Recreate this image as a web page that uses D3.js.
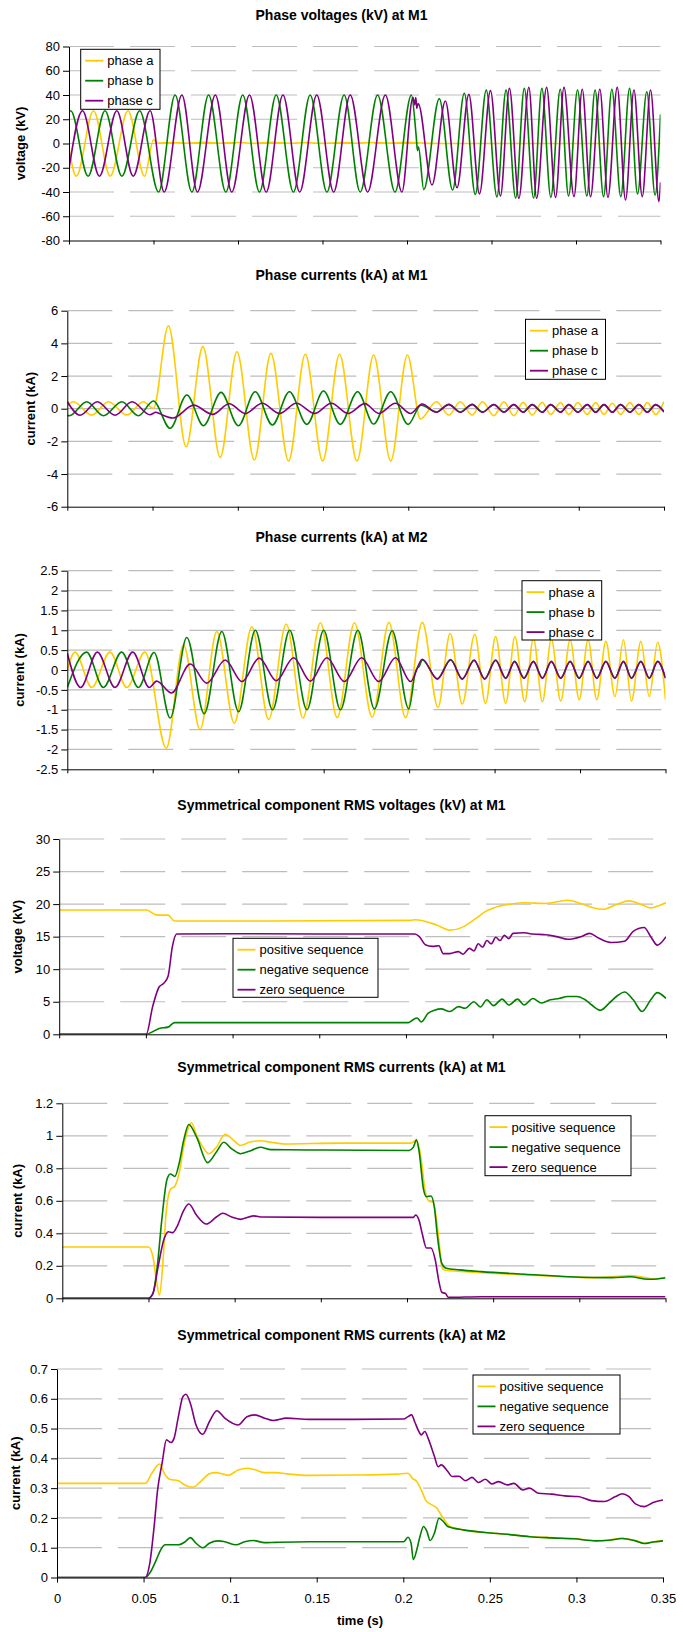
<!DOCTYPE html>
<html>
<head>
<meta charset="utf-8">
<script src="https://cdn.jsdelivr.net/npm/d3@7"></script>
<style>
body { margin: 0; background: #fff; }
text { font-family: "Liberation Sans", Arial, sans-serif; }
</style>
</head>
<body>
<script>
// time ticks shared by every panel (s)
var timeTicks = [0, 0.05, 0.1, 0.15, 0.2, 0.25, 0.3, 0.35];

var phaseNames = ["phase a", "phase b", "phase c"];
var seqNames = ["positive sequence", "negative sequence", "zero sequence"];

var voltTicks1 = [-80, -60, -40, -20, 0, 20, 40, 60, 80];
var curTicks1 = [-6, -4, -2, 0, 2, 4, 6];
var curTicks2 = [-2.5, -2, -1.5, -1, -0.5, 0, 0.5, 1, 1.5, 2, 2.5];
var seqVoltTicks = [0, 5, 10, 15, 20, 25, 30];
var seqCurTicks1 = [0, 0.2, 0.4, 0.6, 0.8, 1, 1.2];
var seqCurTicks2 = [0, 0.1, 0.2, 0.3, 0.4, 0.5, 0.6, 0.7];

// ---- phase voltages at M1 (kV), [t, v] at the turning points
var m1VoltA = [[0,-4],[0.0043,-27],[0.0145,27],[0.0244,-27],[0.0349,27],[0.0447,-27],[0.05,3],[0.052,0.3],
  [0.06,0.8],[0.07,0.2],[0.08,0.9],[0.09,0.2],[0.1,0.8],[0.11,0.1],[0.12,0.9],[0.13,0.2],[0.14,0.7],[0.15,0.1],
  [0.16,0.8],[0.17,0.2],[0.18,0.8],[0.19,0.3],[0.2,0.9],[0.21,0.3],[0.22,0],[0.35,0]];
var m1VoltB = [[0,26],[0.001,27],[0.0113,-27],[0.0213,27],[0.0313,-27],[0.0418,27],[0.053,-40],[0.0628,40],
  [0.0727,-40],[0.0826,40],[0.0928,-40],[0.1028,40],[0.1127,-40],[0.1226,40],[0.1328,-40],[0.1427,40],
  [0.1526,-40],[0.1628,40],[0.1723,-40],[0.1826,40],[0.1929,-40],[0.2026,40],[0.2055,5],[0.2062,-6],
  [0.2068,-3],[0.2099,-38],[0.2191,37],[0.227,-38.4],[0.2339,41.4],[0.2404,-42],[0.2469,44],[0.2532,-44],
  [0.2586,44],[0.2643,-45],[0.2694,45.5],[0.2749,-45],[0.2798,45.5],[0.2851,-44.4],[0.2907,44.7],
  [0.2956,-43.3],[0.3009,44.1],[0.3064,-43.3],[0.3113,44.1],[0.3163,-43.8],[0.3212,44.7],[0.3265,-43.8],
  [0.3317,45.5],[0.3364,-41.6],[0.3419,42.7],[0.3468,-42.5],[0.35,24]];
var m1VoltC = [[0,-21],[0.008,27],[0.018,-27],[0.0283,27],[0.038,-27],[0.048,27],[0.0563,-40],[0.0668,40],
  [0.076,-40],[0.0866,40],[0.0963,-40],[0.1068,40],[0.1167,-40],[0.1266,40],[0.1365,-40],[0.1466,40],
  [0.1566,-40],[0.1664,40],[0.1767,-40],[0.1872,40],[0.197,-40],[0.2035,38],[0.2045,32],[0.2052,38],
  [0.2058,29],[0.2066,33],[0.2148,-34.2],[0.2227,35],[0.2296,-36.4],[0.2366,40.5],[0.2429,-41.6],
  [0.2494,43.6],[0.2553,-43.3],[0.2606,45.5],[0.2662,-45.2],[0.2721,46.3],[0.2767,-45.2],[0.2826,46.3],
  [0.2879,-44.4],[0.2929,46.3],[0.2988,-43.8],[0.3037,44.7],[0.3086,-43.8],[0.3141,44.7],[0.3189,-44.4],
  [0.3244,46.3],[0.3293,-46.6],[0.3343,44.1],[0.3392,-43.8],[0.3441,44.1],[0.3491,-48],[0.35,-32]];

// ---- phase currents at M1 (kA)
var m1CurA = [[0,0.2],[0.0035,0.43],[0.0143,-0.39],[0.0241,0.43],[0.0349,-0.39],[0.0446,0.43],[0.0505,0.02],
  [0.0593,5.08],[0.0697,-2.33],[0.0795,3.8],[0.0897,-2.98],[0.0995,3.49],[0.1097,-3.14],[0.1194,3.39],
  [0.1298,-3.2],[0.1396,3.33],[0.1498,-3.2],[0.1597,3.33],[0.1699,-3.2],[0.1797,3.29],[0.1897,-3.2],
  [0.1995,3.29],[0.2071,-0.63],[0.2165,0.43],[0.2238,-0.39],[0.2305,0.43],[0.2375,-0.39],[0.2435,0.43],
  [0.2502,-0.43],[0.2561,0.43],[0.2619,-0.43],[0.2674,0.39],[0.2727,-0.39],[0.2786,0.39],[0.2835,-0.35],
  [0.2893,0.37],[0.2942,-0.35],[0.2995,0.37],[0.305,-0.35],[0.3099,0.37],[0.3148,-0.35],[0.3197,0.33],
  [0.3245,-0.35],[0.33,0.37],[0.3353,-0.35],[0.3402,0.37],[0.3451,-0.35],[0.35,0.43]];
var m1CurB = [[0,-0.4],[0.0012,-0.43],[0.0114,0.43],[0.0212,-0.43],[0.032,0.43],[0.0417,-0.43],[0.0505,0.47],
  [0.0603,-1.2],[0.0701,0.84],[0.0799,-1.04],[0.0902,1.0],[0.1003,-1.04],[0.1102,1.04],[0.1203,-1.0],
  [0.1303,1.04],[0.1405,-0.96],[0.1503,1.08],[0.1601,-0.96],[0.1703,1.04],[0.1797,-0.94],[0.1897,1.04],
  [0.1999,-0.96],[0.2075,0.22],[0.2165,-0.2],[0.2238,0.27],[0.2305,-0.2],[0.2375,0.27],[0.2435,-0.2],
  [0.2502,0.26],[0.2561,-0.2],[0.2619,0.26],[0.2674,-0.2],[0.2727,0.25],[0.2786,-0.2],[0.2835,0.25],
  [0.2893,-0.2],[0.2942,0.25],[0.2995,-0.2],[0.305,0.25],[0.3099,-0.2],[0.3148,0.25],[0.3197,-0.2],
  [0.3245,0.25],[0.33,-0.2],[0.3353,0.25],[0.3402,-0.2],[0.3451,0.25],[0.35,-0.18]];
var m1CurC = [[0,0.43],[0.0075,-0.4],[0.0176,0.43],[0.028,-0.4],[0.038,0.43],[0.0485,-0.37],[0.052,-0.22],
  [0.054,-0.3],[0.062,-0.57],[0.0741,0.22],[0.0852,-0.35],[0.095,0.3],[0.1044,-0.3],[0.1143,0.33],
  [0.1245,-0.29],[0.1343,0.33],[0.1451,-0.29],[0.1549,0.33],[0.1647,-0.29],[0.1745,0.31],[0.1827,-0.29],
  [0.1925,0.33],[0.2013,-0.29],[0.2081,0.29],[0.2165,-0.22],[0.2238,0.25],[0.2305,-0.22],[0.2375,0.25],
  [0.2435,-0.22],[0.2502,0.25],[0.2561,-0.22],[0.2619,0.25],[0.2674,-0.22],[0.2727,0.25],[0.2786,-0.22],
  [0.2835,0.25],[0.2893,-0.22],[0.2942,0.25],[0.2995,-0.22],[0.305,0.25],[0.3099,-0.22],[0.3148,0.25],
  [0.3197,-0.22],[0.3245,0.25],[0.33,-0.22],[0.3353,0.25],[0.3402,-0.22],[0.3451,0.25],[0.35,-0.2]];

// ---- phase currents at M2 (kA)
var m2CurA = [[0,0],[0.0045,0.45],[0.0143,-0.44],[0.025,0.45],[0.0348,-0.44],[0.0455,0.45],[0.0579,-1.97],
  [0.068,0.63],[0.0777,-1.5],[0.0875,0.97],[0.0977,-1.34],[0.108,1.09],[0.1178,-1.25],[0.1281,1.16],
  [0.1379,-1.21],[0.1481,1.19],[0.1579,-1.2],[0.168,1.19],[0.1784,-1.19],[0.1882,1.2],[0.1979,-1.2],
  [0.2077,1.2],[0.2169,-0.94],[0.224,0.92],[0.2311,-0.86],[0.2384,0.9],[0.2447,-0.84],[0.2506,0.84],
  [0.2565,-0.84],[0.2619,0.84],[0.2676,-0.8],[0.2727,0.8],[0.278,-0.8],[0.2832,0.78],[0.2887,-0.78],
  [0.2942,0.76],[0.2995,-0.75],[0.3047,0.76],[0.3098,-0.75],[0.3151,0.72],[0.3204,-0.67],[0.3254,0.76],
  [0.3301,-0.78],[0.3356,0.72],[0.3405,-0.67],[0.3454,0.7],[0.35,-0.75]];
var m2CurB = [[0,-0.44],[0.0113,0.45],[0.0211,-0.44],[0.0318,0.45],[0.0416,-0.44],[0.0508,0.44],[0.0602,-1.21],
  [0.0699,0.82],[0.0801,-1.1],[0.0904,0.97],[0.1002,-1.05],[0.11,1.0],[0.1201,-1.0],[0.1301,1.0],
  [0.1402,-1.0],[0.15,1.0],[0.1598,-1.0],[0.17,1.0],[0.1797,-0.98],[0.1901,0.99],[0.1998,-0.98],
  [0.2037,-0.05],[0.2048,0.05],[0.2058,0.08],[0.2077,0.25],[0.2165,-0.22],[0.2243,0.26],[0.2311,-0.22],
  [0.238,0.25],[0.2442,-0.22],[0.2506,0.25],[0.2565,-0.2],[0.2617,0.22],[0.2672,-0.2],[0.2727,0.22],
  [0.278,-0.2],[0.2832,0.22],[0.2887,-0.2],[0.2942,0.22],[0.2995,-0.2],[0.3047,0.22],[0.3098,-0.2],
  [0.3151,0.22],[0.3204,-0.2],[0.3254,0.22],[0.3301,-0.2],[0.3356,0.22],[0.3405,-0.2],[0.3454,0.22],[0.35,-0.2]];
var m2CurC = [[0,0.42],[0.0078,-0.44],[0.0176,0.45],[0.0279,-0.44],[0.0383,0.45],[0.048,-0.44],[0.0523,-0.28],
  [0.0535,-0.3],[0.0609,-0.58],[0.0719,0.15],[0.0816,-0.33],[0.0924,0.25],[0.1022,-0.29],[0.1123,0.3],
  [0.1223,-0.27],[0.1324,0.31],[0.1422,-0.28],[0.1519,0.31],[0.1621,-0.29],[0.1722,0.31],[0.1822,-0.29],
  [0.192,0.31],[0.2008,-0.29],[0.2077,0.27],[0.2165,-0.23],[0.2243,0.25],[0.2311,-0.23],[0.238,0.24],
  [0.2442,-0.23],[0.2506,0.24],[0.2565,-0.21],[0.2617,0.21],[0.2672,-0.21],[0.2727,0.21],[0.278,-0.21],
  [0.2832,0.21],[0.2887,-0.21],[0.2942,0.21],[0.2995,-0.21],[0.3047,0.21],[0.3098,-0.21],[0.3151,0.21],
  [0.3204,-0.21],[0.3254,0.21],[0.3301,-0.21],[0.3356,0.21],[0.3405,-0.21],[0.3454,0.21],[0.35,-0.21]];

// ---- symmetrical component RMS voltages at M1 (kV)
var seqVPos = [[0,19.1],[0.0502,19.1],[0.0565,18.3],[0.0628,18.3],[0.0665,17.4],[0.12,17.4],[0.2026,17.5],
  [0.2052,17.6],[0.2177,16.8],[0.2253,16.0],[0.2329,16.5],[0.2404,17.8],[0.2455,18.8],[0.2505,19.4],
  [0.2581,19.9],[0.2681,20.2],[0.2807,20.1],[0.2933,20.6],[0.3009,20.1],[0.3085,19.4],[0.3135,19.2],
  [0.3211,19.9],[0.3286,20.5],[0.3362,19.9],[0.3412,19.4],[0.3462,19.8],[0.35,20.2]];
var seqVNeg = [[0,0],[0.0502,0],[0.0539,0.4],[0.0577,0.9],[0.0628,1.1],[0.0665,1.8],[0.2014,1.8],[0.2039,2.2],
  [0.2064,2.5],[0.2089,1.9],[0.2127,3.2],[0.2165,3.7],[0.2203,3.9],[0.2253,3.5],[0.2303,4.25],[0.2341,4.0],
  [0.2392,5.0],[0.2429,4.2],[0.2467,5.3],[0.2505,4.4],[0.2555,5.4],[0.2593,4.5],[0.2644,5.4],[0.2681,4.5],
  [0.2732,5.5],[0.2782,4.8],[0.2833,5.3],[0.2883,5.5],[0.2933,5.8],[0.2984,5.8],[0.3034,5.3],[0.3072,4.5],
  [0.3122,3.7],[0.3173,4.8],[0.3223,6.0],[0.3261,6.5],[0.3311,5.3],[0.3362,3.5],[0.3412,5.3],[0.345,6.4],[0.35,5.5]];
var seqVZero = [[0,0],[0.0502,0],[0.0539,4.25],[0.0577,7.3],[0.0602,7.8],[0.0628,8.9],[0.0653,13.5],[0.0678,15.4],
  [0.1,15.45],[0.15,15.4],[0.2052,15.4],[0.2077,15.0],[0.2115,13.7],[0.2152,13.5],[0.219,13.6],[0.2215,12.4],
  [0.2253,12.4],[0.2303,12.7],[0.2329,12.3],[0.2366,13.2],[0.2392,12.8],[0.2417,13.9],[0.2442,13.4],
  [0.2467,14.4],[0.2492,13.9],[0.2518,14.9],[0.2543,14.4],[0.2568,15.2],[0.2593,14.7],[0.2618,15.5],
  [0.2681,15.6],[0.2732,15.4],[0.2807,15.3],[0.287,15.0],[0.2933,14.6],[0.3009,15.0],[0.3059,15.5],
  [0.311,14.8],[0.3185,14.1],[0.3261,14.3],[0.3311,15.8],[0.3374,16.4],[0.3412,15.0],[0.345,13.7],[0.35,15.0]];

// ---- symmetrical component RMS currents at M1 (kA)
var seqIM1Pos = [[0,0.316],[0.05,0.316],[0.0526,0.256],[0.0546,0.11],[0.0564,0.02],[0.0582,0.195],[0.0602,0.52],
  [0.0627,0.67],[0.0653,0.69],[0.0678,0.77],[0.0704,0.93],[0.0749,1.08],[0.078,1.0],[0.0805,0.95],
  [0.0851,0.89],[0.0894,0.93],[0.0945,1.01],[0.0996,0.97],[0.1034,0.94],[0.1085,0.96],[0.1148,0.97],
  [0.1212,0.96],[0.1288,0.95],[0.16,0.955],[0.2024,0.955],[0.205,0.97],[0.207,0.93],[0.2088,0.81],
  [0.2101,0.69],[0.2126,0.6],[0.2151,0.59],[0.2172,0.48],[0.2189,0.32],[0.2202,0.195],[0.2215,0.174],
  [0.2253,0.17],[0.2431,0.158],[0.2685,0.144],[0.2939,0.133],[0.3066,0.127],[0.3193,0.133],[0.3294,0.14],
  [0.3373,0.129],[0.3436,0.119],[0.35,0.13]];
var seqIM1Neg = [[0,0],[0.05,0],[0.0526,0.03],[0.0551,0.195],[0.0577,0.48],[0.0607,0.73],[0.0627,0.765],
  [0.0653,0.75],[0.0678,0.83],[0.0704,0.97],[0.0734,1.07],[0.078,0.99],[0.0843,0.835],[0.0894,0.9],
  [0.0937,0.96],[0.0983,0.92],[0.1034,0.89],[0.1097,0.91],[0.1148,0.93],[0.1212,0.915],[0.1415,0.913],
  [0.2012,0.91],[0.2037,0.93],[0.2055,0.975],[0.207,0.905],[0.2096,0.67],[0.2113,0.625],[0.2139,0.63],
  [0.2159,0.56],[0.2177,0.38],[0.2202,0.215],[0.2228,0.185],[0.2304,0.175],[0.2431,0.164],[0.2685,0.148],
  [0.2939,0.133],[0.3193,0.127],[0.3294,0.133],[0.3398,0.117],[0.3449,0.119],[0.35,0.125]];
var seqIM1Zero = [[0,0],[0.05,0],[0.0526,0.03],[0.0556,0.195],[0.0589,0.36],[0.0615,0.41],[0.064,0.404],
  [0.0665,0.44],[0.0704,0.54],[0.0734,0.58],[0.078,0.51],[0.0836,0.457],[0.0894,0.5],[0.0932,0.523],
  [0.0983,0.5],[0.1034,0.486],[0.111,0.507],[0.1161,0.5],[0.15,0.498],[0.2037,0.498],[0.205,0.513],
  [0.207,0.48],[0.2088,0.4],[0.2113,0.31],[0.2139,0.31],[0.2164,0.236],[0.2184,0.11],[0.2202,0.037],
  [0.2223,0.03],[0.224,0.006],[0.2431,0.01],[0.35,0.01]];

// ---- symmetrical component RMS currents at M2 (kA)
var seqIM2Pos = [[0,0.316],[0.051,0.316],[0.0548,0.35],[0.0592,0.381],[0.0625,0.344],[0.065,0.33],[0.0701,0.325],
  [0.074,0.31],[0.0785,0.303],[0.0829,0.322],[0.088,0.348],[0.0918,0.352],[0.0956,0.348],[0.0989,0.343],
  [0.1046,0.361],[0.1097,0.367],[0.1148,0.361],[0.1199,0.352],[0.1262,0.352],[0.1326,0.348],[0.1454,0.343],
  [0.1709,0.344],[0.1964,0.347],[0.2027,0.35],[0.2053,0.333],[0.2078,0.322],[0.2104,0.294],[0.2129,0.26],
  [0.2155,0.247],[0.2193,0.233],[0.2219,0.21],[0.2231,0.199],[0.227,0.171],[0.2346,0.16],[0.2474,0.151],
  [0.2601,0.145],[0.2729,0.1375],[0.2856,0.134],[0.2984,0.131],[0.3111,0.124],[0.3188,0.126],[0.3264,0.132],
  [0.3341,0.124],[0.3392,0.115],[0.3443,0.12],[0.35,0.124]];
var seqIM2Neg = [[0,0],[0.051,0],[0.0536,0.015],[0.0574,0.06],[0.0599,0.093],[0.0625,0.11],[0.0663,0.11],
  [0.0701,0.11],[0.074,0.12],[0.077,0.134],[0.0803,0.115],[0.0842,0.1],[0.088,0.115],[0.0931,0.123],
  [0.0969,0.12],[0.1033,0.11],[0.1084,0.12],[0.1135,0.124],[0.1199,0.117],[0.1262,0.118],[0.1454,0.12],
  [0.1709,0.12],[0.2002,0.12],[0.2027,0.135],[0.2045,0.115],[0.2058,0.06],[0.2078,0.093],[0.2096,0.137],
  [0.2117,0.171],[0.2137,0.154],[0.2155,0.124],[0.218,0.149],[0.2206,0.199],[0.2231,0.188],[0.2257,0.171],
  [0.2295,0.165],[0.2346,0.16],[0.2474,0.151],[0.2601,0.145],[0.2729,0.137],[0.2856,0.133],[0.2984,0.13],
  [0.3111,0.123],[0.3188,0.125],[0.3264,0.131],[0.3341,0.123],[0.3392,0.114],[0.3443,0.119],[0.35,0.123]];
var seqIM2Zero = [[0,0],[0.051,0],[0.0536,0.048],[0.0561,0.171],[0.0581,0.294],[0.0607,0.384],[0.0632,0.462],
  [0.0658,0.453],[0.0676,0.467],[0.0701,0.54],[0.0727,0.607],[0.0745,0.615],[0.077,0.585],[0.0803,0.512],
  [0.0842,0.481],[0.088,0.523],[0.0923,0.56],[0.0969,0.535],[0.1046,0.512],[0.1097,0.54],[0.1142,0.546],
  [0.1199,0.535],[0.125,0.527],[0.1326,0.535],[0.1454,0.531],[0.1709,0.531],[0.2002,0.532],[0.2027,0.54],
  [0.2048,0.546],[0.2066,0.523],[0.2086,0.495],[0.2104,0.479],[0.2124,0.49],[0.2147,0.462],[0.218,0.406],
  [0.2201,0.372],[0.2219,0.378],[0.2257,0.356],[0.2282,0.339],[0.2321,0.34],[0.2359,0.325],[0.2397,0.336],
  [0.2435,0.319],[0.2474,0.33],[0.2512,0.314],[0.255,0.322],[0.2601,0.311],[0.2639,0.316],[0.269,0.294],
  [0.2729,0.3],[0.278,0.283],[0.2856,0.28],[0.2933,0.274],[0.3009,0.272],[0.3086,0.258],[0.3162,0.255],
  [0.3226,0.272],[0.3264,0.281],[0.3302,0.272],[0.3341,0.247],[0.3392,0.238],[0.3443,0.252],[0.35,0.26]];

var colors = ["#ffcc00", "#008000", "#800080"];

// layout of the six stacked charts (pixels)
var panels = [
  {title: "Phase voltages (kV) at M1", ylab: "voltage (kV)", ticks: voltTicks1, series: [m1VoltA, m1VoltB, m1VoltC],
   names: phaseNames, l: 69, r: 660.5, t: 46.5, b: 240.5, ty: 15, ylx: 20, lg: [80.7, 49.3, 79.3, 60]},
  {title: "Phase currents (kA) at M1", ylab: "current (kA)", ticks: curTicks1, series: [m1CurA, m1CurB, m1CurC],
   names: phaseNames, l: 67.3, r: 664, t: 310.7, b: 506.7, ty: 275, ylx: 30, lg: [525.5, 319.3, 80, 60]},
  {title: "Phase currents (kA) at M2", ylab: "current (kA)", ticks: curTicks2, series: [m2CurA, m2CurB, m2CurC],
   names: phaseNames, l: 67.3, r: 665.5, t: 570.7, b: 769.3, ty: 537, ylx: 19.6, lg: [522, 580.7, 79.7, 59.3]},
  {title: "Symmetrical component RMS voltages (kV) at M1", ylab: "voltage (kV)", ticks: seqVoltTicks,
   series: [seqVPos, seqVNeg, seqVZero], names: seqNames, l: 59.2, r: 666, t: 839, b: 1034.3, ty: 805, ylx: 17.4,
   lg: [233, 938.3, 145, 59]},
  {title: "Symmetrical component RMS currents (kA) at M1", ylab: "current (kA)", ticks: seqCurTicks1,
   series: [seqIM1Pos, seqIM1Neg, seqIM1Zero], names: seqNames, l: 62.3, r: 665.5, t: 1103.3, b: 1298.3, ty: 1067,
   ylx: 17.4, lg: [485, 1115.7, 146, 60]},
  {title: "Symmetrical component RMS currents (kA) at M2", ylab: "current (kA)", ticks: seqCurTicks2,
   series: [seqIM2Pos, seqIM2Neg, seqIM2Zero], names: seqNames, l: 57, r: 663, t: 1369, b: 1577.5, ty: 1335,
   ylx: 15.5, lg: [473, 1375, 147, 59], xlabels: true}
];

var svg = d3.select("body").append("svg")
  .attr("width", 683)
  .attr("height", 1632);

panels.forEach(function(p, i) {
  var x = d3.scaleLinear().domain([0, 0.35]).range([p.l, p.r]);
  var y = d3.scaleLinear().domain([p.ticks[0], p.ticks[p.ticks.length - 1]]).range([p.b, p.t]);
  var g = svg.append("g");

  // dashed grey gridlines
  g.selectAll("line.grid")
    .data(p.ticks.slice(1))
    .enter().append("line")
    .attr("class", "grid")
    .attr("x1", p.l).attr("x2", p.r)
    .attr("y1", function(d) { return y(d); })
    .attr("y2", function(d) { return y(d); })
    .style("stroke", "#bdbdbd")
    .style("stroke-width", 1.2)
    .style("stroke-dasharray", "45,16");

  svg.append("clipPath").attr("id", "clip" + i)
    .append("rect")
    .attr("x", p.l).attr("y", p.t - 10)
    .attr("width", p.r - p.l).attr("height", p.b - p.t + 10);

  var line = d3.line()
    .x(function(d) { return x(d[0]); })
    .y(function(d) { return y(d[1]); })
    .curve(d3.curveMonotoneX);

  p.series.forEach(function(s, j) {
    g.append("path")
      .attr("d", line(s))
      .attr("clip-path", "url(#clip" + i + ")")
      .style("fill", "none")
      .style("stroke", colors[j])
      .style("stroke-width", 1.6)
      .style("stroke-linejoin", "round");
  });

  // axes
  var yAxis = d3.axisLeft(y)
    .tickValues(p.ticks)
    .tickSize(6)
    .tickSizeOuter(0)
    .tickPadding(3)
    .tickFormat(function(d) { return String(d); });
  var ya = g.append("g")
    .attr("transform", "translate(" + p.l + ",0)")
    .call(yAxis);

  var xAxis = d3.axisBottom(x)
    .tickValues(timeTicks)
    .tickSize(p.xlabels ? 5 : 4)
    .tickSizeOuter(0)
    .tickPadding(11)
    .tickFormat(function(d) { return p.xlabels ? String(d) : ""; });
  var xa = g.append("g")
    .attr("transform", "translate(0," + p.b + ")")
    .call(xAxis);

  [ya, xa].forEach(function(a) {
    a.attr("font-family", null).attr("font-size", null);
    a.selectAll("text").style("font-size", "13px").style("fill", "#000");
    a.selectAll("path, line").style("stroke", "#000");
  });

  // titles
  g.append("text")
    .attr("x", 341.5).attr("y", p.ty).attr("dy", "0.35em")
    .style("text-anchor", "middle")
    .style("font-weight", "bold")
    .style("font-size", "14px")
    .text(p.title);

  g.append("text")
    .attr("transform", "translate(" + (p.ylx + 4.5) + "," + ((p.t + p.b) / 2) + ") rotate(-90)")
    .style("text-anchor", "middle")
    .style("font-weight", "bold")
    .style("font-size", "13px")
    .text(p.ylab);

  if (p.xlabels) {
    g.append("text")
      .attr("x", (p.l + p.r) / 2).attr("y", 1620).attr("dy", "0.35em")
      .style("text-anchor", "middle")
      .style("font-weight", "bold")
      .style("font-size", "13px")
      .text("time (s)");
  }

  // legend box
  var lg = g.append("g").attr("transform", "translate(" + p.lg[0] + "," + p.lg[1] + ")");
  lg.append("rect")
    .attr("width", p.lg[2]).attr("height", p.lg[3])
    .style("fill", "#fff").style("stroke", "#000").style("stroke-width", 1);
  p.names.forEach(function(n, j) {
    var yy = 11.4 + j * 20;
    lg.append("line")
      .attr("x1", 4.5).attr("x2", 22.5).attr("y1", yy).attr("y2", yy)
      .style("stroke", colors[j]).style("stroke-width", 1.8);
    lg.append("text")
      .attr("x", 26.5).attr("y", yy).attr("dy", "0.35em")
      .style("font-size", "13px")
      .text(n);
  });
});
</script>
</body>
</html>
